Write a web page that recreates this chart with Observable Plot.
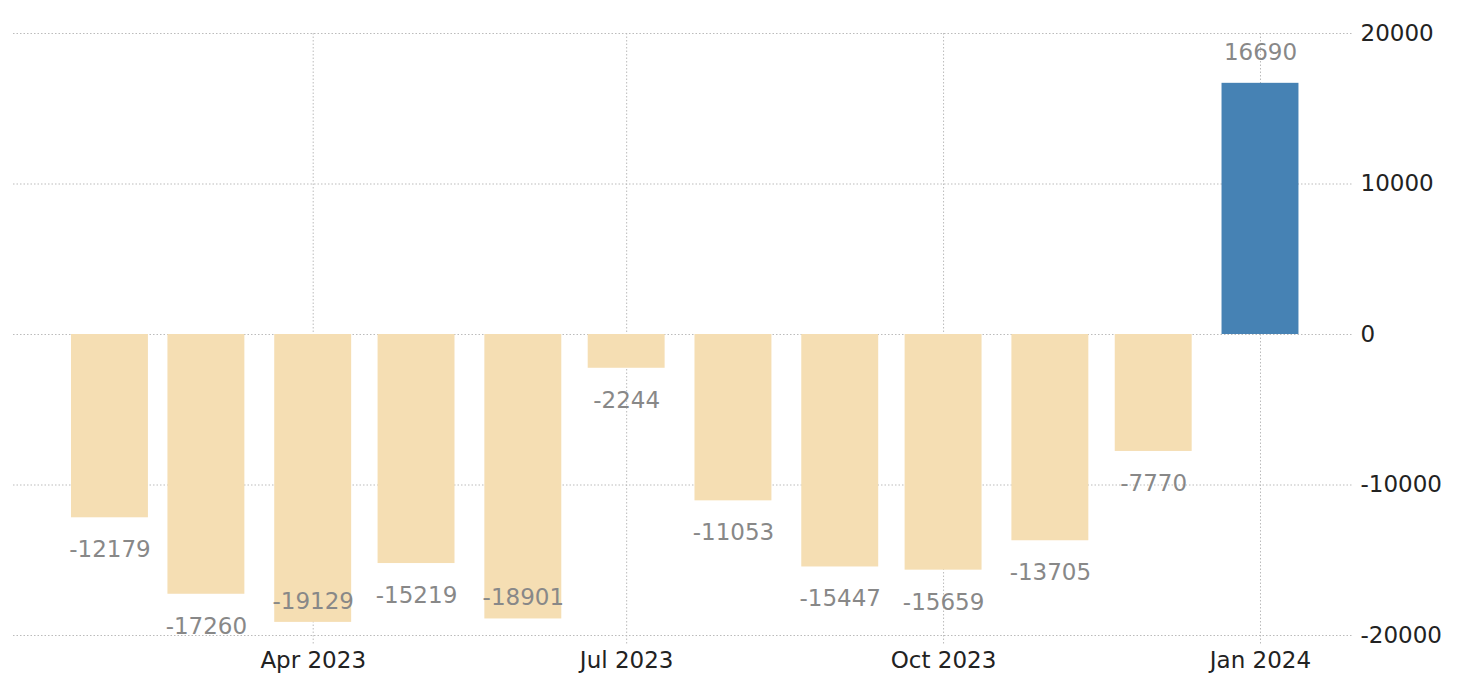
<!DOCTYPE html>
<html>
<head>
<meta charset="utf-8">
<script src="https://cdn.jsdelivr.net/npm/d3@7"></script>
<script src="https://cdn.jsdelivr.net/npm/@observablehq/plot@0.6"></script>
<style>
  html, body { margin: 0; padding: 0; background: #fff; }
  #chart svg { display: block; }
</style>
</head>
<body>
<div id="chart"></div>
<script>
const months = ["2023-02-01","2023-03-01","2023-04-01","2023-05-01","2023-06-01","2023-07-01","2023-08-01","2023-09-01","2023-10-01","2023-11-01","2023-12-01","2024-01-01"];
const values = [-12179,-17260,-19129,-15219,-18901,-2244,-11053,-15447,-15659,-13705,-7770,16690];
const xTicks = ["2023-04-01","2023-07-01","2023-10-01","2024-01-01"];
const yTicks = [-20000,-10000,0,10000,20000];

const toDate = s => new Date(s + "T00:00:00Z");
const data = months.map((m, i) => ({date: toDate(m), value: values[i]}));
const half = 268; // hours, half bar width
const low = data.filter(d => d.value < -18500);
const below = data.filter(d => d.value < 0 && d.value >= -18500);
const above = data.filter(d => d.value >= 0);
const xt = xTicks.map(toDate);

const font = "'DejaVu Sans', Verdana, sans-serif";
const fs = 23;
const chart = Plot.plot({
  width: 1469,
  height: 685,
  marginTop: 33,
  marginBottom: 50,
  marginLeft: 13,
  marginRight: 116,
  style: {fontFamily: font, fontSize: fs + "px", color: "#222", background: "#fff"},
  x: {type: "utc", domain: [toDate("2023-01-04"), toDate("2024-01-28")]},
  y: {domain: [-20000, 20000]},
  marks: [
    Plot.gridY(yTicks, {stroke: "#bbb", strokeOpacity: 1, strokeDasharray: "1.5,2"}),
    Plot.gridX(xt, {stroke: "#bbb", strokeOpacity: 1, strokeDasharray: "1.5,2"}),
    Plot.axisX(xt, {tickFormat: d3.utcFormat("%b %Y"), tickSize: 10, tickPadding: 6, stroke: "#bbb", strokeDasharray: "1.5,2", fill: "#222", label: null}),
    Plot.axisY(yTicks, {anchor: "right", tickSize: 0, tickPadding: 7, textAnchor: "start", tickFormat: d => String(d), fill: "#222", label: null}),
    Plot.rectY(data, {
      x1: d => d3.utcHour.offset(d.date, -half),
      x2: d => d3.utcHour.offset(d.date, half),
      y1: 0, y2: "value",
      fill: d => d.value >= 0 ? "steelblue" : "wheat"
    }),
    Plot.text(below, {x: "date", y: "value", text: d => String(d.value), dy: 32, fill: "#888", fontSize: fs}),
    Plot.text(above, {x: "date", y: "value", text: d => String(d.value), dy: -31, fill: "#888", fontSize: fs}),
    Plot.text(low, {x: "date", y: "value", text: d => String(d.value), dy: -21, fill: "#888", fontSize: fs})
  ]
});
document.getElementById("chart").appendChild(chart);
</script>
</body>
</html>
